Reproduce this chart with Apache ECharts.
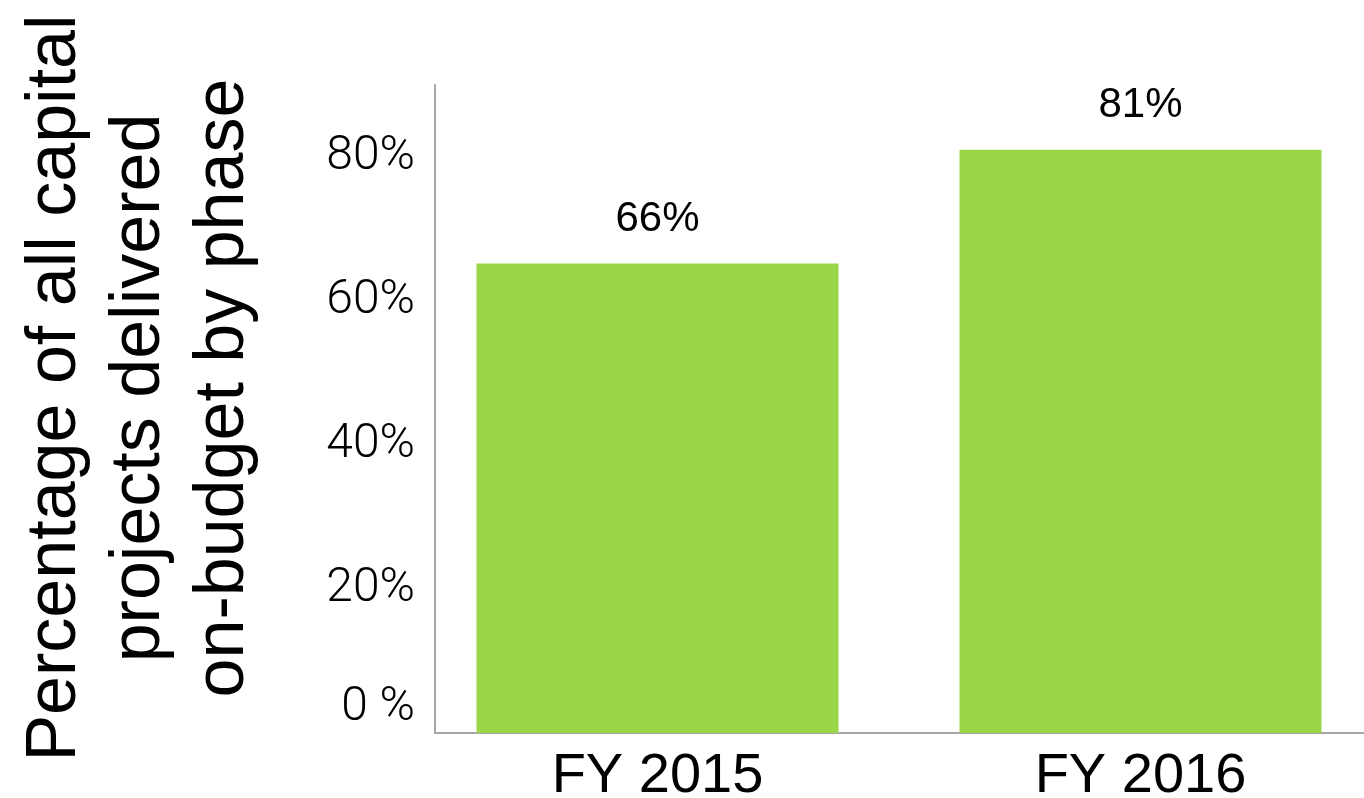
<!DOCTYPE html>
<html>
<head>
<meta charset="utf-8">
<script src="https://cdn.jsdelivr.net/npm/echarts@6/dist/echarts.min.js"></script>
<style>
html,body{margin:0;padding:0;background:#fff;}
#chart{width:1364px;height:798px;}
</style>
</head>
<body>
<div id="chart"></div>
<script>
const categories = ['FY 2015', 'FY 2016'];
const values = [65.2, 81];
const valueLabels = ['66%', '81%'];
const yTickLabels = { 0: '0 %', 20: '20%', 40: '40%', 60: '60%', 80: '80%' };
const yTitle = 'Percentage of all capital\nprojects delivered\non-budget by phase';

const chart = echarts.init(document.getElementById('chart'));
const axisColor = '#A6A6A6';
const option = {
  backgroundColor: '#ffffff',
  animation: false,
  grid: [
    { left: 416, width: 966, top: 85, bottom: 65, outerBoundsMode: 'none', containLabel: false },
    { left: 435, right: 0, top: 85, bottom: 65, outerBoundsMode: 'none', containLabel: false }
  ],
  xAxis: [
    {
      gridIndex: 0, type: 'category', data: categories,
      axisLine: { show: false }, axisTick: { show: false },
      axisLabel: {
        color: '#000', fontFamily: 'Liberation Sans', fontSize: 56,
        margin: 16, verticalAlign: 'top'
      }
    },
    {
      gridIndex: 1, type: 'category', data: categories,
      axisLine: { show: true, lineStyle: { color: axisColor, width: 2 } },
      axisTick: { show: false }, axisLabel: { show: false }
    }
  ],
  yAxis: [
    {
      gridIndex: 0, type: 'value', min: 0, max: 90, interval: 20, show: false,
      splitLine: { show: false }
    },
    {
      gridIndex: 1, type: 'value', min: 0, max: 90, interval: 20,
      axisLine: { show: true, lineStyle: { color: axisColor, width: 2 } },
      axisTick: { show: false },
      splitLine: { show: false },
      axisLabel: {
        showMaxLabel: false,
        color: '#000', fontFamily: 'Roboto', fontWeight: 300, fontSize: 48,
        margin: 20,
        formatter: function (v) {
          if (v === 0) return '{z|' + yTickLabels[0] + '}';
          return yTickLabels[v] !== undefined ? yTickLabels[v] : '';
        },
        rich: {
          z: { fontFamily: 'Roboto', fontWeight: 300, fontSize: 48, color: '#000', padding: [0, 0, 50, 0] }
        }
      }
    }
  ],
  series: [
    {
      type: 'bar', xAxisIndex: 0, yAxisIndex: 0,
      data: values, barWidth: 362,
      itemStyle: { color: '#9AD649' },
      label: {
        show: true, position: 'top', distance: 23,
        color: '#000', fontFamily: 'Liberation Sans', fontSize: 42,
        formatter: function (p) { return valueLabels[p.dataIndex]; }
      }
    }
  ],
  graphic: [
    {
      type: 'text', x: 140, y: 388, rotation: Math.PI / 2,
      style: {
        text: yTitle, align: 'center', verticalAlign: 'middle',
        fontFamily: 'Liberation Sans', fontSize: 70, lineHeight: 84, fill: '#000'
      }
    }
  ]
};
chart.setOption(option);
</script>
</body>
</html>
